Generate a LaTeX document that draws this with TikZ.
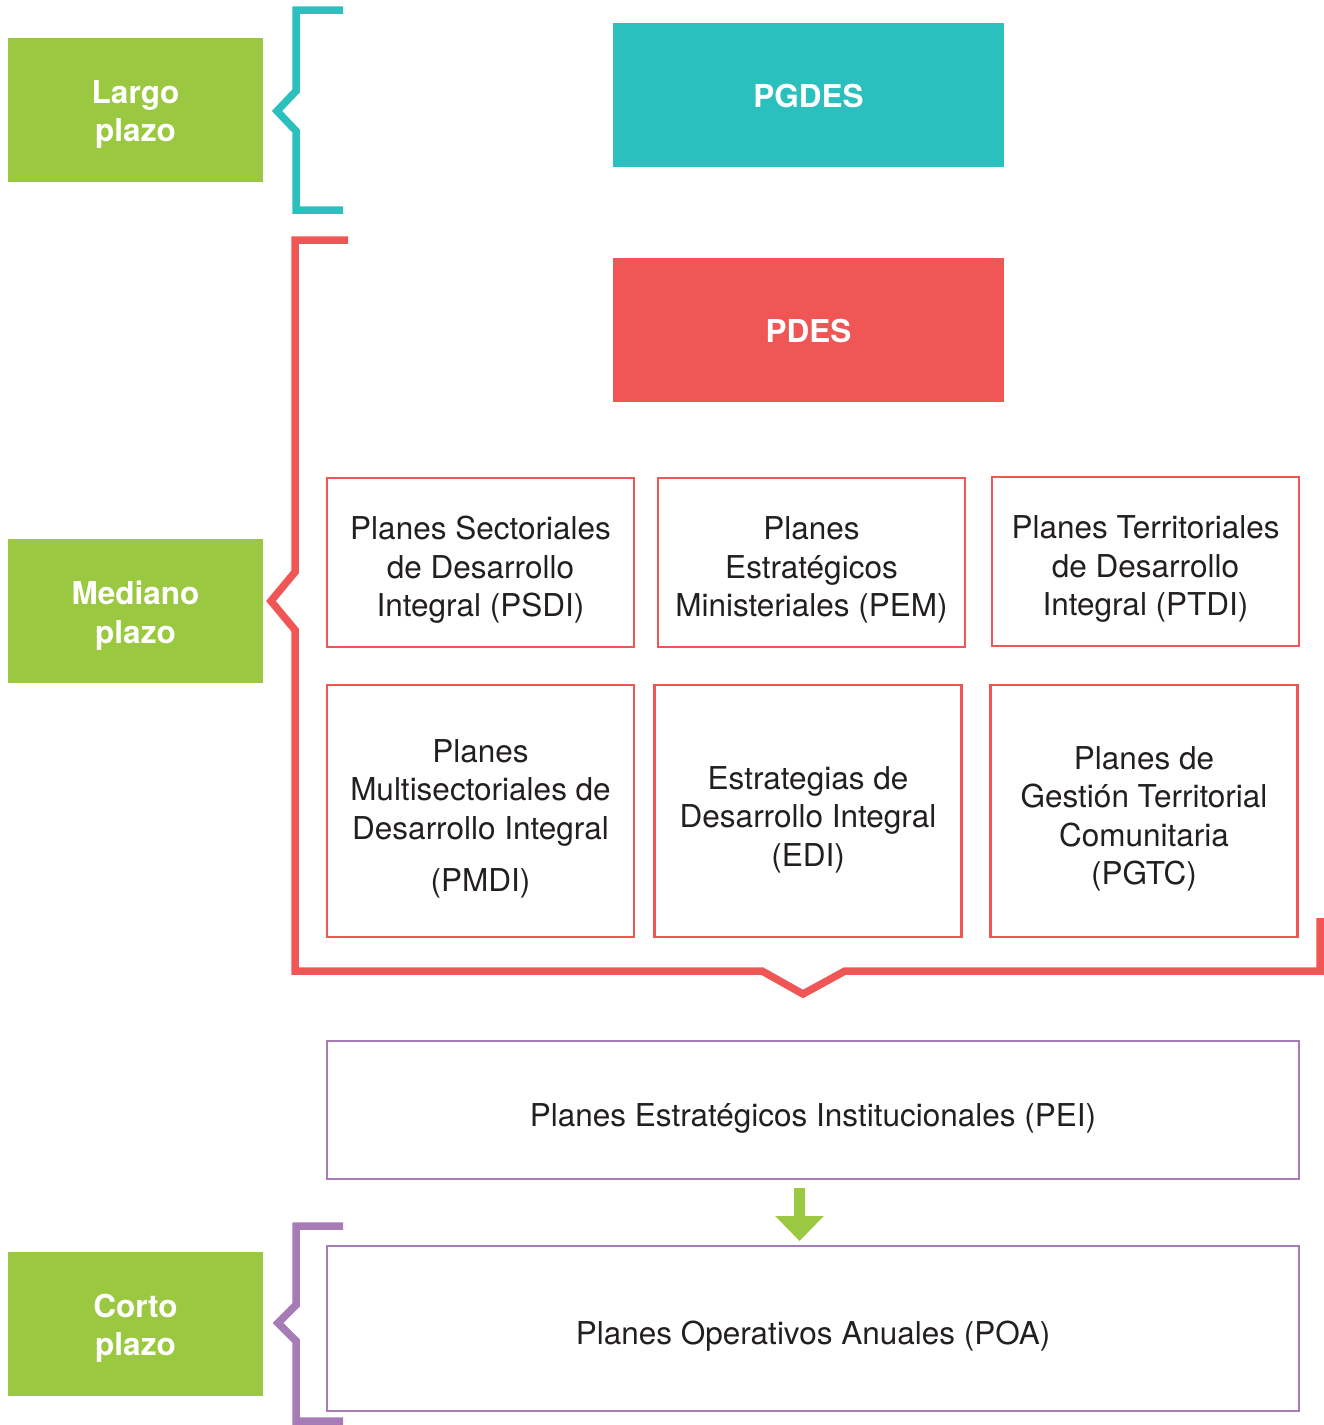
\documentclass[tikz,border=0pt]{standalone}
\usepackage{fontspec}
\setmainfont{TeX Gyre Heros}
\usetikzlibrary{arrows.meta}
\definecolor{lime}{HTML}{9AC840}
\definecolor{teal2}{HTML}{2BBFBE}
\definecolor{coral}{HTML}{F05656}
\definecolor{lilac}{HTML}{A77BB6}
\definecolor{ink}{HTML}{231F20}
\begin{document}
\begin{tikzpicture}[x=1pt,y=-1pt,
  every node/.style={inner sep=0pt,outer sep=0pt,align=center,
    font=\fontsize{31.5}{38.5}\selectfont},
  termbox/.style={fill=lime,minimum width=255,minimum height=144},
  termtext/.style={text=white,font=\fontsize{31.5}{38.5}\selectfont\bfseries},
  headbox/.style={minimum width=391,minimum height=144},
  planbox/.style={draw=coral,line width=2.5pt,minimum width=307},
  instbox/.style={draw=lilac,line width=2.5pt,minimum width=972},
  boxtext/.style={text=ink},
  brace/.style={line width=7.5pt,miter limit=10,line join=miter},
  flowarrow/.style={draw=lime,line width=11pt,
    -{Triangle[length=25pt,width=47pt]}}]
\useasboundingbox (0,0) rectangle (1324,1425);

% time horizons
\node[termbox] (largo) at (135.5,110) {};
\node[termbox] (mediano) at (135.5,611) {};
\node[termbox] (corto) at (135.5,1323.5) {};
\node[termtext] (largo-t) at ([yshift=-4.5]largo.center) {Largo\\plazo};
\node[termtext] (mediano-t) at ([yshift=-4.5]mediano.center) {Mediano\\plazo};
\node[termtext] (corto-t) at ([yshift=-4.5]corto.center) {Corto\\plazo};

% national plans
\node[headbox,fill=teal2] (pgdes) at (808.5,95) {};
\node[headbox,fill=coral] (pdes) at (808.5,330) {};
\node[termtext] (pgdes-t) at ([yshift=-1.5]pgdes.center) {PGDES};
\node[termtext] (pdes-t) at ([yshift=-1.5]pdes.center) {PDES};

% sectoral and territorial plans
\node[planbox,minimum height=169] (psdi) at (480.5,562.5) {};
\node[planbox,minimum height=169] (pem) at (811.5,562.5) {};
\node[planbox,minimum height=169] (ptdi) at (1145.5,561.5) {};
\node[planbox,minimum height=252] (pmdi) at (480.5,811) {};
\node[planbox,minimum height=252] (edi) at (808,811) {};
\node[planbox,minimum height=252] (pgtc) at (1144,811) {};
\node[boxtext] (psdi-t) at ([yshift=-7.5]psdi.center)
  {Planes Sectoriales\\de Desarrollo\\Integral (PSDI)};
\node[boxtext] (pem-t) at ([yshift=-7.5]pem.center)
  {Planes\\Estratégicos\\Ministeriales (PEM)};
\node[boxtext] (ptdi-t) at ([yshift=-7.5]ptdi.center)
  {Planes Territoriales\\de Desarrollo\\Integral (PTDI)};
\node[boxtext] (pmdi-t) at ([yshift=-8]pmdi.center)
  {Planes\\Multisectoriales de\\Desarrollo Integral\\[14pt](PMDI)};
\node[boxtext] (edi-t) at ([yshift=-8.5]edi.center)
  {Estrategias de\\Desarrollo Integral\\(EDI)};
\node[boxtext] (pgtc-t) at ([yshift=-8]pgtc.center)
  {Planes de\\Gestión Territorial\\Comunitaria\\(PGTC)};

% institutional and operational plans
\node[instbox,minimum height=138] (pei) at (813,1110) {};
\node[instbox,minimum height=165] (poa) at (813,1328.5) {};
\node[boxtext] (pei-t) at ([yshift=-8]pei.center)
  {Planes Estratégicos Institucionales (PEI)};
\node[boxtext] (poa-t) at ([yshift=-8]poa.center)
  {Planes Operativos Anuales (POA)};

% braces grouping the plans by horizon
\draw[brace,teal2] (343,10) -- (296,10) -- (296,91) -- (277,111)
  -- (296,131) -- (296,210) -- (343,210);
\draw[brace,coral] (348,240) -- (295,240) -- (295,572) -- (271,601)
  -- (295,630) -- (295,971) -- (762,971) -- (803,994) -- (845,971)
  -- (1320,971) -- (1320,918);
\draw[brace,lilac] (343,1226) -- (296,1226) -- (296,1305) -- (278,1323)
  -- (296,1341) -- (296,1421) -- (343,1421);

% PEI feeds the POA
\coordinate (arrowstart) at (799.5,1188);
\coordinate (arrowend) at (799.5,1241);
\draw[flowarrow] (arrowstart) -- (arrowend);
\end{tikzpicture}
\end{document}
